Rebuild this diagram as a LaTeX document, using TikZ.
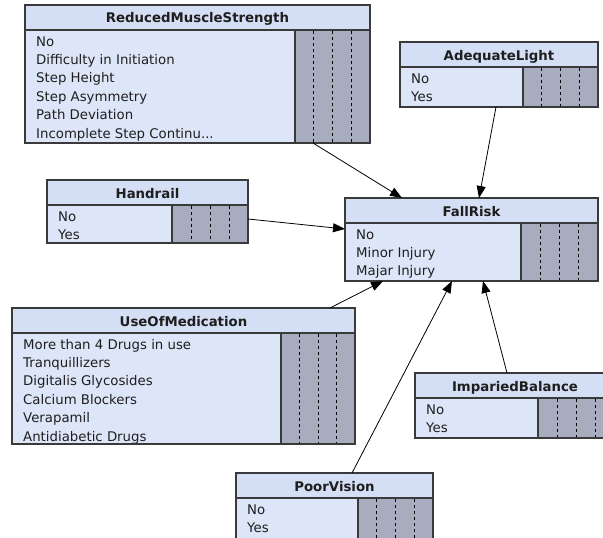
\documentclass[tikz,border=0pt]{standalone}
\usepackage{fontspec}
\setmainfont{DejaVu Sans}
\usetikzlibrary{arrows.meta,calc}
\definecolor{titlefill}{HTML}{D4DEF4}
\definecolor{bodyfill}{HTML}{DDE6F8}
\definecolor{grayfill}{HTML}{A7ACBE}
\definecolor{edgecol}{HTML}{3A3A3A}
\definecolor{txtcol}{HTML}{1E1E1E}
\tikzset{
  bnframe/.style={draw=edgecol, line width=1.2pt, inner sep=0pt, outer sep=0pt},
  sepline/.style={draw=edgecol, line width=1.2pt},
  gridline/.style={draw=black, line width=0.9pt, dash pattern=on 3pt off 3pt},
  titletext/.style={font=\fontsize{13.3}{16}\selectfont\bfseries, text=txtcol, inner sep=0pt, anchor=base},
  rowtext/.style={font=\fontsize{13.3}{18.4}\selectfont, text=txtcol, inner sep=0pt, align=left, anchor=north west},
  link/.style={draw=black, line width=0.8pt, -{Triangle[length=12pt,width=9pt]}}
}
% name, x, y, width, height, gray width, title, rows
\newcommand\bnbox[8]{%
  \fill[bodyfill] (#2,#3) rectangle ++(#4,#5);
  \fill[titlefill] (#2,#3) rectangle ++(#4,25);
  \fill[grayfill] ({#2+#4-#6},{#3+25}) rectangle ({#2+#4},{#3+#5});
  \foreach \k in {1,2,3}{\draw[gridline] ({#2+#4-#6+\k*#6/4},{#3+26}) -- ++(0,{#5-26});}
  \draw[sepline] (#2,{#3+25}) -- ++(#4,0) ({#2+#4-#6},{#3+25}) -- ({#2+#4-#6},{#3+#5});
  \node[titletext] (#1-title) at ({#2+#4/2},{#3+18}) {#7};
  \node[rowtext] (#1-rows) at ({#2+11},{#3+28}) {#8};
  \node[bnframe, minimum width=#4pt, minimum height=#5pt, anchor=north west] (#1) at (#2,#3) {};
}
\begin{document}
\begin{tikzpicture}[x=1pt,y=-1pt]
\path[use as bounding box, fill=white] (0,0) rectangle (603,538);
\clip (0,0) rectangle (603,538);

\bnbox{rms}{25}{5}{345}{138}{75}{ReducedMuscleStrength}{\strut No\\\strut Difficulty in Initiation\\\strut Step Height\\\strut Step Asymmetry\\\strut Path Deviation\\\strut Incomplete Step Continu...}
\bnbox{al}{400}{42}{198}{65}{75}{AdequateLight}{\strut No\\\strut Yes}
\bnbox{fr}{345}{198}{253}{83}{77}{FallRisk}{\strut No\\\strut Minor Injury\\\strut Majar Injury}
\bnbox{hr}{47}{180}{201}{63}{76}{Handrail}{\strut No\\\strut Yes}
\bnbox{um}{12}{308}{343}{136}{74}{UseOfMedication}{\strut More than 4 Drugs in use\\\strut Tranquillizers\\\strut Digitalis Glycosides\\\strut Calcium Blockers\\\strut Verapamil\\\strut Antidiabetic Drugs}
\bnbox{ib}{415}{373}{200}{65}{77}{ImpariedBalance}{\strut No\\\strut Yes}
\bnbox{pv}{236}{473}{197}{70}{75}{PoorVision}{\strut No\\\strut Yes}

\draw[link] ([xshift=288pt]rms.south west) -- ([xshift=57pt]fr.north west);
\draw[link] ([xshift=96pt]al.south west) -- ([xshift=134pt]fr.north west);
\draw[link] ([yshift=24pt]hr.south east) -- ([yshift=-31pt]fr.north west);
\draw[link] ([xshift=318pt]um.north west) -- ([xshift=38pt]fr.south west);
\draw[link] ([xshift=116pt]pv.north west) -- ([xshift=107pt]fr.south west);
\draw[link] ([xshift=92pt]ib.north west) -- ([xshift=138pt]fr.south west);
\end{tikzpicture}
\end{document}
